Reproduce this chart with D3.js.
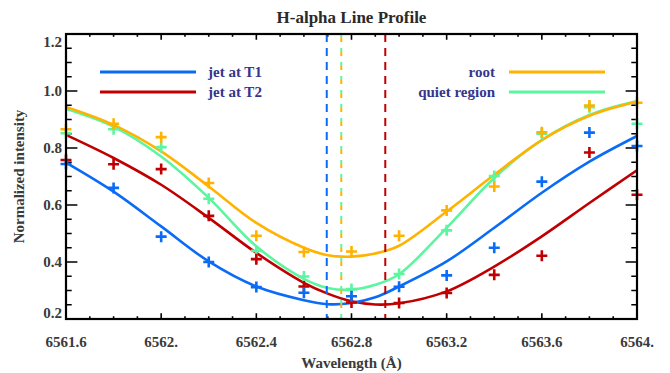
<!DOCTYPE html>
<html>
<head>
<meta charset="utf-8">
<script src="https://cdn.jsdelivr.net/npm/d3@7"></script>
<style>
  body { margin: 0; background: #fff; }
  svg text { font-family: "Liberation Serif", "Times New Roman", serif; font-weight: bold; }
</style>
</head>
<body>
<div class="chart"></div>
<script>
// DATA ----------------------------------------------

// observed points (every 0.2 A)
const obsWl = [6561.6, 6561.8, 6562.0, 6562.2, 6562.4, 6562.6, 6562.8, 6563.0, 6563.2, 6563.4, 6563.6, 6563.8, 6564.0];
const obsT1 = [0.744, 0.660, 0.489, 0.400, 0.312, 0.292, 0.280, 0.313, 0.353, 0.450, 0.682, 0.854, 0.807];
const obsT2 = [0.758, 0.743, 0.726, 0.562, 0.410, 0.314, 0.258, 0.256, 0.291, 0.355, 0.422, 0.784, 0.636];
const obsRoot = [0.866, 0.885, 0.838, 0.677, 0.492, 0.435, 0.437, 0.492, 0.581, 0.665, 0.855, 0.949, 0.959];
const obsQuiet = [0.852, 0.866, 0.803, 0.622, 0.439, 0.349, 0.305, 0.358, 0.511, 0.702, 0.850, 0.943, 0.885];

// fitted profiles
const fitWl = [6561.6, 6561.8, 6562.0, 6562.2, 6562.4, 6562.6, 6562.7, 6562.8, 6562.9, 6563.0, 6563.2, 6563.4, 6563.6, 6563.8, 6564.0];
const fitT1 = [0.749, 0.647, 0.525, 0.402, 0.314, 0.266, 0.252, 0.256, 0.276, 0.314, 0.402, 0.520, 0.643, 0.752, 0.842];
const fitT2 = [0.846, 0.765, 0.671, 0.555, 0.432, 0.327, 0.289, 0.262, 0.251, 0.255, 0.297, 0.384, 0.490, 0.607, 0.722];
const fitRoot = [0.944, 0.881, 0.788, 0.665, 0.537, 0.450, 0.424, 0.419, 0.430, 0.457, 0.577, 0.706, 0.828, 0.913, 0.963];
const fitQuiet = [0.938, 0.875, 0.770, 0.625, 0.455, 0.341, 0.309, 0.303, 0.320, 0.357, 0.520, 0.695, 0.828, 0.916, 0.965];

// line centres (dashed lines)
const centreT1 = 6562.696;
const centreT2 = 6562.942;
const centreRoot = 6562.757;
const centreQuiet = 6562.757;

const xTicks = [6561.6, 6562.0, 6562.4, 6562.8, 6563.2, 6563.6, 6564.0];
const xTickLabels = ['6561.6', '6562.', '6562.4', '6562.8', '6563.2', '6563.6', '6564.'];
const yTicks = [0.2, 0.4, 0.6, 0.8, 1.0, 1.2];
const yTickLabels = ['0.2', '0.4', '0.6', '0.8', '1.0', '1.2'];

const blue = '#0a6cf6';
const red = '#c00000';
const yellow = '#ffb300';
const green = '#5cf5a0';

const series = [
	{name: 'quiet region', obs: obsQuiet, fit: fitQuiet, color: green},
	{name: 'root', obs: obsRoot, fit: fitRoot, color: yellow},
	{name: 'jet at T2', obs: obsT2, fit: fitT2, color: red},
	{name: 'jet at T1', obs: obsT1, fit: fitT1, color: blue}
];

// CHART INIT ----------------------------------------

const W = 670, H = 373;
const margin = {top: 34, right: 33, bottom: 54, left: 66};
const width = W - margin.left - margin.right;
const height = H - margin.top - margin.bottom;

const svg = d3.select('.chart').append('svg')
	.attr('width', W)
	.attr('height', H);

const g = svg.append('g')
	.attr('transform', `translate(${margin.left},${margin.top})`);

const x = d3.scaleLinear().domain([6561.6, 6564.0]).range([0, width]);
const y = d3.scaleLinear().domain([0.2, 1.2]).range([height, 0]);

const minorX = d3.range(6561.6, 6564.01, 0.1);
const minorY = d3.range(0.2, 1.201, 0.05);

// ticks (IDL style, all four sides)
const tx = 5.7, ty = 11.4;
g.selectAll('.tick-x').data(minorX).enter().append('path')
	.attr('d', (d, i) => {
		const len = i % 4 === 0 ? tx : tx / 2;
		const px = x(d);
		return `M${px},${height}v${-len}M${px},0v${len}`;
	})
	.attr('stroke', '#000').attr('stroke-width', 1.6);

g.selectAll('.tick-y').data(minorY).enter().append('path')
	.attr('d', (d, i) => {
		const len = i % 4 === 0 ? ty : ty / 2;
		const py = y(d);
		return `M0,${py}h${len}M${width},${py}h${-len}`;
	})
	.attr('stroke', '#000').attr('stroke-width', 1.6);

// curves + points
const line = d3.line()
	.x((d, i) => x(fitWl[i]))
	.y(d => y(d))
	.curve(d3.curveCatmullRom);

series.forEach(s => {
	g.append('path')
		.attr('d', line(s.fit))
		.attr('fill', 'none')
		.attr('stroke', s.color)
		.attr('stroke-width', 2.6);
});

series.forEach(s => {
	g.selectAll(null).data(s.obs).enter().append('path')
		.attr('d', (d, i) => {
			const px = x(obsWl[i]), py = y(d);
			return `M${px - 5.5},${py}h11M${px},${py - 5.5}v11`;
		})
		.attr('stroke', s.color)
		.attr('stroke-width', 2.6);
});

// dashed centre lines
const vline = (wl, color, dash, offset) => g.append('line')
	.attr('x1', x(wl)).attr('x2', x(wl))
	.attr('y1', 0).attr('y2', height)
	.attr('stroke', color)
	.attr('stroke-width', 2)
	.attr('stroke-dasharray', dash)
	.attr('stroke-dashoffset', offset);

vline(centreT1, blue, '8,6', 0);
vline(centreT2, red, '8,6', 0);
vline(centreQuiet, green, '4,10', 0);
vline(centreRoot, yellow, '4,10', -4);

// frame
g.append('rect')
	.attr('width', width).attr('height', height)
	.attr('fill', 'none')
	.attr('stroke', '#000')
	.attr('stroke-width', 2.2);

// tick labels
g.selectAll('.xl').data(xTicks).enter().append('text')
	.attr('x', d => x(d))
	.attr('y', height + 28)
	.attr('text-anchor', 'middle')
	.attr('font-size', 15)
	.attr('fill', '#3a3a3a')
	.text((d, i) => xTickLabels[i]);

g.selectAll('.yl').data(yTicks).enter().append('text')
	.attr('x', -4)
	.attr('y', (d, i) => y(d) + (i === yTicks.length - 1 ? 8 : i === 0 ? -6 : 0))
	.attr('dy', '0.35em')
	.attr('text-anchor', 'end')
	.attr('font-size', 15)
	.attr('fill', '#3a3a3a')
	.text((d, i) => yTickLabels[i]);

// titles
svg.append('text')
	.attr('x', margin.left + width / 2)
	.attr('y', 23)
	.attr('text-anchor', 'middle')
	.attr('font-size', 17)
	.attr('fill', '#2a2a2a')
	.text('H-alpha Line Profile');

svg.append('text')
	.attr('x', margin.left + width / 2)
	.attr('y', 368)
	.attr('text-anchor', 'middle')
	.attr('font-size', 15)
	.attr('fill', '#3a3a3a')
	.text('Wavelength (Å)');

svg.append('text')
	.attr('transform', `translate(24,${margin.top + height / 2}) rotate(-90)`)
	.attr('text-anchor', 'middle')
	.attr('font-size', 15)
	.attr('fill', '#3a3a3a')
	.text('Normalized intensity');

// LEGEND --------------------------------------------

const legendLeft = [{name: 'jet at T1', color: blue}, {name: 'jet at T2', color: red}];
const legendRight = [{name: 'root', color: yellow}, {name: 'quiet region', color: green}];
const legendColor = '#35358c';

legendLeft.forEach((d, i) => {
	const ly = 72 + i * 20;
	svg.append('line')
		.attr('x1', 100).attr('x2', 196)
		.attr('y1', ly).attr('y2', ly)
		.attr('stroke', d.color).attr('stroke-width', 3);
	svg.append('text')
		.attr('x', 208).attr('y', ly)
		.attr('dy', '0.35em')
		.attr('font-size', 15)
		.attr('fill', legendColor)
		.text(d.name);
});

legendRight.forEach((d, i) => {
	const ly = 72 + i * 20;
	svg.append('line')
		.attr('x1', 509).attr('x2', 605)
		.attr('y1', ly).attr('y2', ly)
		.attr('stroke', d.color).attr('stroke-width', 3);
	svg.append('text')
		.attr('x', 495).attr('y', ly)
		.attr('dy', '0.35em')
		.attr('text-anchor', 'end')
		.attr('font-size', 15)
		.attr('fill', legendColor)
		.text(d.name);
});
</script>
</body>
</html>
